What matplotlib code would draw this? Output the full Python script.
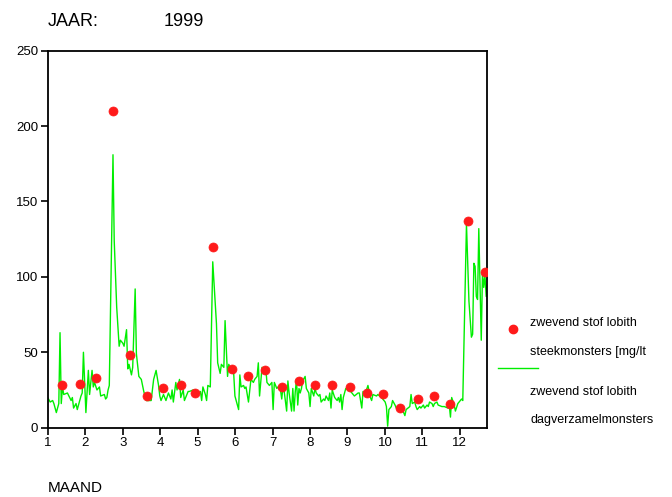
import numpy as np
import matplotlib.pyplot as plt
from matplotlib.lines import Line2D

plt.rcParams['font.family'] = ['Liberation Sans', 'DejaVu Sans']

# dagverzamelmonsters: dag van het jaar (0 = 1 jan) en waarde [mg/l]
dag = [0, 2, 4, 5, 7, 9, 10, 11, 12, 13, 16, 19, 20, 21, 23, 24, 27, 28, 29, 31,
       33, 34, 36, 37, 38, 40, 42, 43, 46, 47, 48, 49, 50, 53, 54, 56, 58, 59, 61, 62,
       64, 65, 66, 68, 69, 71, 72, 74, 76, 78, 80, 84, 86, 88, 90, 91, 92, 94, 96, 98,
       100, 101, 102, 104, 105, 107, 108, 110, 111, 113, 114, 115, 118, 121, 122, 124, 125, 126, 128, 129,
       130, 132, 134, 137, 138, 140, 141, 143, 144, 146, 147, 148, 151, 152, 155, 156, 157, 159, 160, 161,
       163, 165, 167, 168, 170, 171, 172, 174, 176, 177, 178, 180, 182, 183, 184, 186, 187, 189, 190, 191,
       192, 194, 195, 196, 198, 199, 200, 201, 202, 203, 204, 205, 206, 207, 209, 210, 212, 213, 214, 216,
       217, 218, 220, 221, 222, 224, 225, 226, 228, 229, 230, 231, 233, 235, 236, 237, 238, 239, 240, 242,
       244, 245, 247, 249, 252, 253, 255, 256, 258, 260, 262, 263, 264, 267, 268, 271, 272, 274, 275, 276,
       277, 279, 280, 282, 283, 286, 288, 290, 291, 294, 295, 296, 298, 299, 300, 302, 303, 305, 306, 308,
       309, 310, 312, 313, 314, 316, 317, 320, 322, 325, 326, 327, 328, 330, 331, 333, 334, 336, 337, 340,
       342, 344, 345, 346, 347, 348, 349, 350, 352, 353, 354, 355, 356, 357]
dagwaarde = [20, 17, 18, 16, 10, 16, 63, 16, 27, 22, 23, 18, 20, 13, 16, 12, 21, 23, 50, 10,
             38, 22, 38, 27, 30, 25, 27, 21, 22, 19, 20, 25, 28, 181, 124, 80, 54, 58, 56, 54,
             65, 39, 42, 35, 40, 92, 49, 34, 32, 24, 18, 18, 32, 38, 28, 21, 18, 22, 18, 23,
             19, 25, 17, 30, 25, 32, 20, 25, 18, 22, 24, 24, 25, 24, 22, 24, 18, 27, 22, 18,
             28, 27, 110, 69, 43, 36, 42, 40, 71, 34, 42, 40, 36, 21, 12, 35, 27, 28, 26, 27,
             17, 32, 30, 32, 34, 43, 21, 40, 38, 40, 30, 28, 30, 12, 30, 26, 27, 25, 19, 27,
             24, 11, 31, 23, 11, 26, 11, 24, 32, 15, 26, 23, 26, 31, 34, 26, 23, 14, 26, 21,
             26, 23, 21, 22, 17, 19, 18, 21, 18, 23, 13, 25, 20, 18, 20, 17, 22, 12, 20, 26,
             25, 25, 23, 21, 23, 23, 13, 24, 23, 28, 20, 18, 22, 21, 22, 20, 19, 17, 14, 1,
             12, 14, 18, 15, 13, 13, 12, 8, 12, 14, 22, 16, 17, 14, 12, 14, 13, 15, 13, 15,
             14, 17, 16, 14, 16, 17, 15, 14, 14, 13, 15, 7, 20, 15, 11, 16, 17, 19, 18, 135,
             84, 60, 62, 109, 107, 87, 85, 132, 58, 103, 93, 101, 87, 95]

# steekmonsters: maand (decimaal) en waarde [mg/l]
steek_maand = [1.37, 1.85, 2.29, 2.73, 3.20, 3.64, 4.09, 4.55, 4.93, 5.42, 5.91, 6.34, 6.79,
               7.26, 7.70, 8.13, 8.60, 9.06, 9.52, 9.96, 10.40, 10.87, 11.31, 11.75, 12.23, 12.66]
steek_waarde = [28, 29, 33, 210, 48, 21, 26, 28, 23, 120, 39, 34, 38,
                27, 31, 28, 28, 27, 23, 22, 13, 19, 21, 16, 137, 103]

groen = '#00ee00'
rood = '#ff1a1a'

fig = plt.figure(figsize=(6.72, 4.97), dpi=100)
ax = fig.add_axes([0.071, 0.1395, 0.654, 0.7585])

dag_maand = 1 + np.array(dag) / 30.42
ax.plot(dag_maand, dagwaarde, color=groen, lw=1.0, zorder=2)
ax.plot(steek_maand, steek_waarde, linestyle='none', marker='o', ms=6.5,
        mfc=rood, mec=rood, mew=0.5, zorder=3)

ax.set_xlim(1, 12.73)
ax.set_ylim(0, 250)
ax.set_xticks(range(1, 13))
ax.set_yticks(range(0, 251, 50))
ax.tick_params(direction='out', length=5, width=1.2, labelsize=9.5,
               colors='black', top=False, right=False, pad=2)
for s in ax.spines.values():
    s.set_linewidth(1.3)

fig.text(0.071, 0.957, 'JAAR:', fontsize=13, va='center', ha='left')
fig.text(0.244, 0.957, '1999', fontsize=13, va='center', ha='left')
fig.text(0.071, 0.018, 'MAAND', fontsize=11, va='center', ha='left')

# legenda
fig.add_artist(Line2D([0.764], [1 - 329 / 497], transform=fig.transFigure,
                      marker='o', ms=6, mfc=rood, mec=rood, linestyle='none'))
fig.add_artist(Line2D([0.741, 0.800], [1 - 368 / 497] * 2, transform=fig.transFigure,
                      color=groen, lw=1.0))
for y, t in [(323, 'zwevend stof lobith'), (352, 'steekmonsters [mg/lt'),
             (392, 'zwevend stof lobith'), (420, 'dagverzamelmonsters')]:
    fig.text(0.789, 1 - y / 497, t, fontsize=9, va='center', ha='left')

fig.savefig('out.png', dpi=100)
